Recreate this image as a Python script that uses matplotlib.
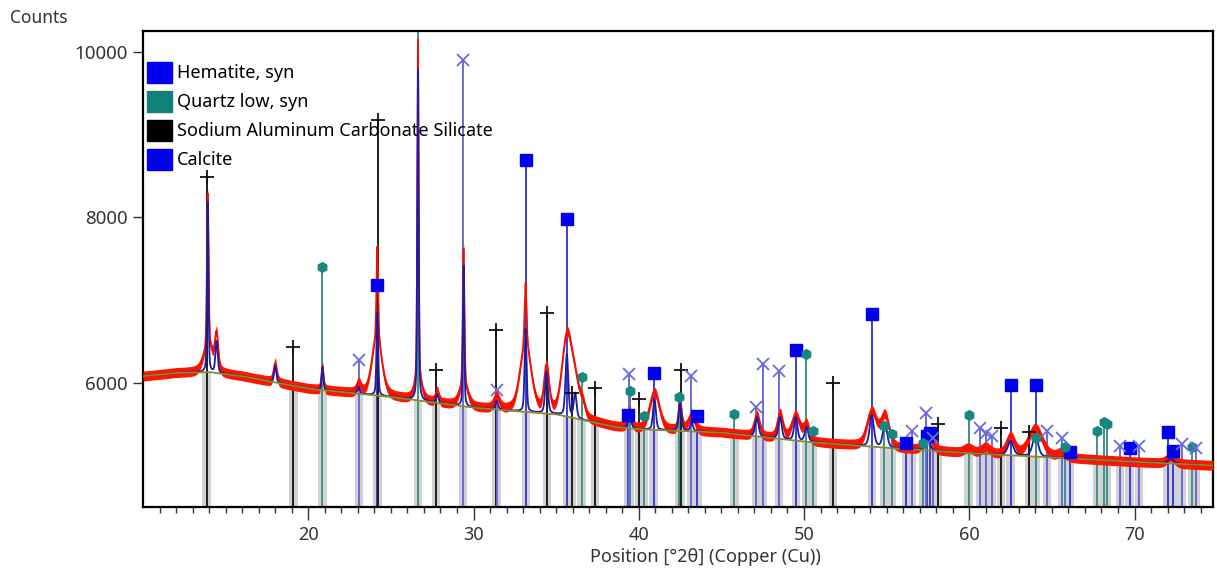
import numpy as np
import matplotlib
matplotlib.use("Agg")
import matplotlib.pyplot as plt
from matplotlib.patches import Patch

plt.rcParams['font.family'] = ['Noto Sans', 'DejaVu Sans']

# background
bg_pos = [10, 12, 14, 16, 20, 25, 30, 35, 38.5, 40, 45, 50, 55, 60, 65, 70, 75]
bg_cnt = [6080, 6120, 6130, 6080, 5930, 5830, 5700, 5620, 5470, 5440, 5400, 5290, 5215, 5150, 5100, 5045, 5000]

# observed peaks: position, height above background, half width
obs_pos = [13.92, 13.95, 14.45, 18.0, 20.86, 23.05, 24.18, 24.15, 26.64, 26.64, 27.8, 29.4, 29.4,
           31.4, 33.15, 33.15, 34.42, 35.65, 36.15, 36.6, 39.45, 40.95, 42.5, 43.2, 47.15, 48.55,
           49.5, 50.15, 54.1, 54.9, 57.5, 59.95, 61.0, 62.5, 64.0, 65.6, 72.2]
obs_hgt = [1850, 300, 420, 230, 280, 120, 1100, 700, 4100, 250, 130, 1650, 250,
           150, 750, 800, 550, 950, 350, 150, 200, 450, 350, 180, 250, 300,
           300, 200, 420, 380, 200, 60, 80, 220, 340, 60, 80]
obs_hw = [0.06, 0.35, 0.12, 0.12, 0.08, 0.15, 0.06, 0.35, 0.05, 0.25, 0.12, 0.06, 0.3,
          0.2, 0.07, 0.4, 0.18, 0.35, 0.3, 0.2, 0.15, 0.35, 0.12, 0.25, 0.2, 0.2,
          0.3, 0.2, 0.35, 0.3, 0.3, 0.3, 0.3, 0.3, 0.5, 0.3, 0.3]

# calculated profile peaks
calc_pos = [13.92, 14.45, 18.0, 20.86, 23.05, 24.18, 26.64, 27.8, 29.4, 31.4, 33.15, 34.42, 35.65,
            36.15, 39.45, 40.95, 42.5, 43.2, 47.15, 48.55, 49.5, 50.15, 54.1, 54.9, 57.5, 62.5, 64.0, 72.2]
calc_hgt = [2050, 380, 200, 280, 80, 1000, 4000, 100, 1700, 100, 1000, 500, 750,
            300, 180, 380, 330, 100, 230, 260, 280, 180, 380, 300, 150, 170, 250, 60]
calc_hw = [0.05, 0.08, 0.08, 0.06, 0.08, 0.06, 0.05, 0.08, 0.05, 0.1, 0.07, 0.1, 0.1,
           0.1, 0.1, 0.1, 0.1, 0.1, 0.12, 0.12, 0.12, 0.12, 0.15, 0.15, 0.15, 0.2, 0.2, 0.2]

# reference patterns (stick positions and marker heights)
hem_pos = [24.16, 33.16, 35.68, 39.37, 40.9, 43.55, 49.5, 54.1, 56.2, 57.45, 57.6, 62.5, 64.05, 66.1, 69.7, 72.0, 72.3]
hem_cnt = [7185, 8695, 7980, 5610, 6120, 5600, 6400, 6834, 5275, 5360, 5395, 5975, 5975, 5165, 5215, 5410, 5180]

qtz_pos = [20.86, 26.64, 36.54, 39.46, 40.29, 42.45, 45.79, 50.14, 50.55, 54.87, 55.33, 57.2, 59.96,
           64.03, 65.79, 67.74, 68.14, 68.31, 73.47]
qtz_cnt = [7400, 10600, 6072, 5903, 5600, 5830, 5625, 6350, 5420, 5480, 5385, 5275, 5615,
           5335, 5225, 5420, 5530, 5505, 5225]

nacs_pos = [13.85, 19.1, 24.2, 27.75, 31.35, 34.45, 35.95, 37.35, 40.0, 42.55, 51.75, 58.1, 61.9, 63.6]
nacs_cnt = [8490, 6435, 9180, 6157, 6640, 6846, 5880, 5940, 5810, 6157, 5995, 5505, 5455, 5408]

cal_pos = [23.05, 29.35, 31.4, 39.4, 43.15, 47.1, 47.5, 48.5, 56.55, 57.4, 57.8, 60.65, 61.0, 61.35,
           64.7, 65.6, 69.1, 70.25, 72.85, 73.7]
cal_cnt = [6278, 9900, 5915, 6109, 6085, 5710, 6230, 6145, 5420, 5640, 5335, 5455, 5395, 5360,
           5420, 5335, 5240, 5240, 5260, 5215]

legend_names = ["Hematite, syn", "Quartz low, syn", "Sodium Aluminum Carbonate Silicate", "Calcite"]
legend_cols = ["#0000f0", "#10807a", "#000000", "#0000f0"]

ymin, ymax = 4500, 10250
x = np.arange(10.0, 74.76, 0.01)
bg = np.interp(x, bg_pos, bg_cnt)

def peaks(pos, hgt, hw, eta):
    # pseudo-Voigt shape
    y = np.zeros_like(x)
    for p, h, w in zip(pos, hgt, hw):
        d = (x - p) / w
        y += h * (eta / (1 + d ** 2) + (1 - eta) * np.exp(-np.log(2) * d ** 2))
    return y

obs = bg + peaks(obs_pos, obs_hgt, obs_hw, 0.3)
calc = bg + peaks(calc_pos, calc_hgt, calc_hw, 0.4)

fig = plt.figure(figsize=(12.17, 5.74), dpi=100)
ax = fig.add_axes([143/1217, 67/574, 1070/1217, 476/574])

# grey bars under every stick
all_pos = hem_pos + qtz_pos + nacs_pos + cal_pos
tops = np.interp(all_pos, bg_pos, bg_cnt)
ax.bar(all_pos, tops - ymin, bottom=ymin, width=0.5, color="#d2d2d2", zorder=1)

ax.vlines(hem_pos, ymin, hem_cnt, color="#3c3cdc", lw=1.4, zorder=2)
ax.vlines(qtz_pos, ymin, qtz_cnt, color="#3f928b", lw=1.4, zorder=2)
ax.vlines(nacs_pos, ymin, nacs_cnt, color="#1e1e1e", lw=1.4, zorder=2)
ax.vlines(cal_pos, ymin, cal_cnt, color="#6a6ad8", lw=1.4, zorder=2)

ax.fill_between(x, obs - 60, obs + 60, color="#ff1500", lw=0, zorder=3)
ax.plot(x, obs, color="#ee1000", lw=1.2, zorder=3)
ax.plot(x, calc, color="#1c1ca8", lw=1.3, zorder=4)
ax.plot(x, bg, color="#8a8a2c", lw=1.3, zorder=5)

ax.plot(hem_pos, hem_cnt, 's', color="#0000f0", ms=8, zorder=6)
ax.plot(qtz_pos, qtz_cnt, 'h', color="#17877f", ms=7, zorder=6)
ax.plot(nacs_pos, nacs_cnt, '+', color="#111111", ms=10, mew=1.3, zorder=6)
ax.plot(cal_pos, cal_cnt, 'x', color="#6a6ae0", ms=9, mew=1.3, zorder=6)

ax.set_xlim(10.0, 74.75)
ax.set_ylim(ymin, ymax)
ax.set_xticks([20, 30, 40, 50, 60, 70])
ax.set_xticks(np.arange(11, 75, 1), minor=True)
ax.set_yticks([6000, 8000, 10000])
ax.tick_params(axis='x', which='major', length=9, width=1, pad=5, labelsize=13, colors='#333333')
ax.tick_params(axis='x', which='minor', length=4, width=1, color='#333333')
ax.tick_params(axis='y', which='major', length=7, width=1, pad=4, labelsize=13.5, colors='#333333')
for s in ax.spines.values():
    s.set_linewidth(1.6)

handles = [Patch(facecolor=c, edgecolor=c) for c in legend_cols]
ax.legend(handles, legend_names, loc='upper left', bbox_to_anchor=(0.0037, 0.935),
          frameon=False, borderaxespad=0, borderpad=0, fontsize=13,
          handlelength=1.4, handleheight=1.4, labelspacing=0.45, handletextpad=0.25)

fig.text(10/1217, 1 - 18/574, "Counts", ha='left', va='center', fontsize=12.5, color='#333333')
fig.text(705/1217, 1 - 557/574, "Position [°2θ] (Copper (Cu))", ha='center', va='center',
         fontsize=13, color='#333333')

fig.savefig("out.png", dpi=100)
